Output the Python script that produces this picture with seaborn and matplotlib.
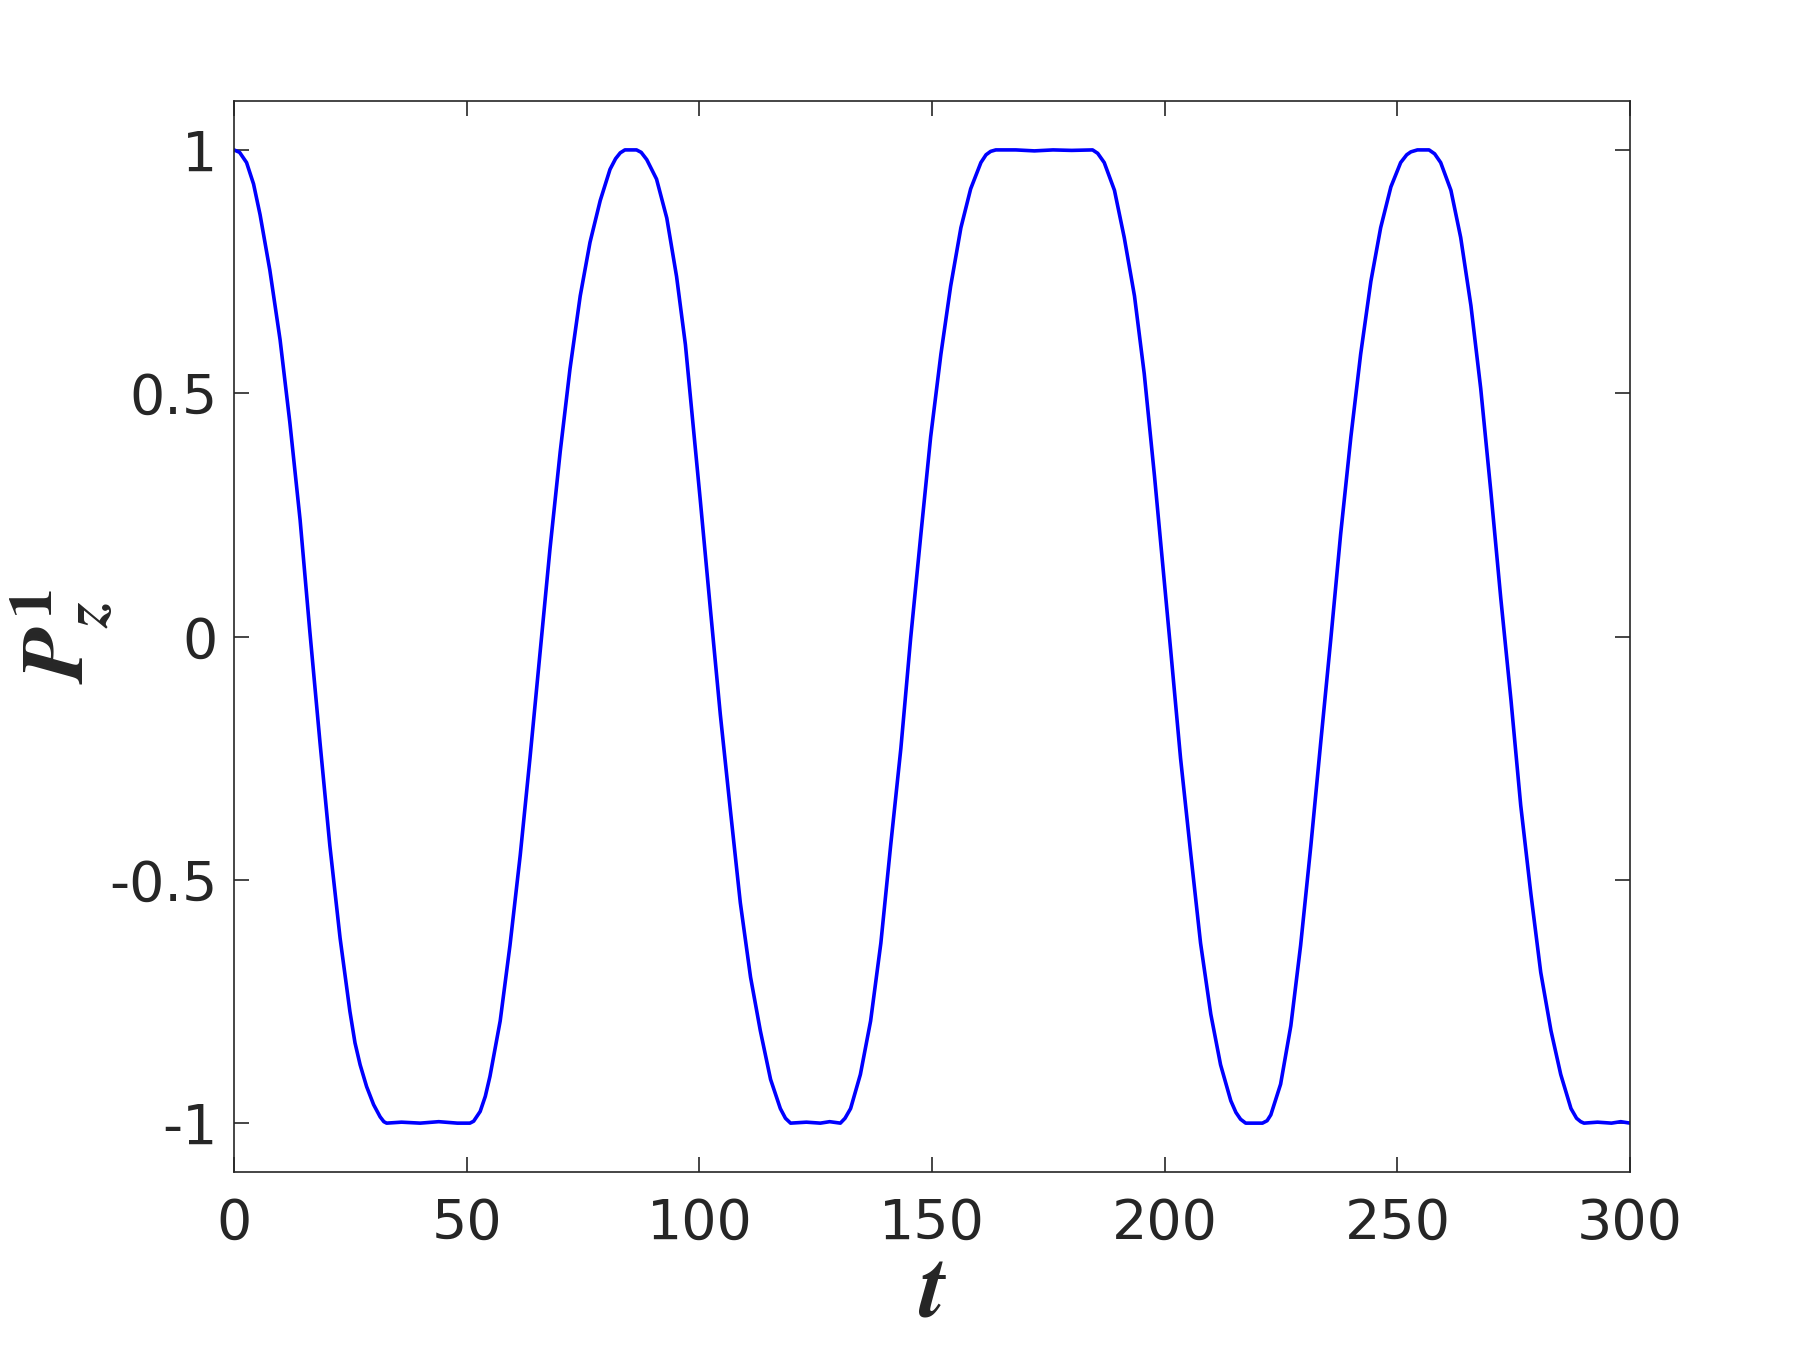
import numpy as np
import pandas as pd
import matplotlib
matplotlib.use("Agg")
import matplotlib.pyplot as plt
import seaborn as sns

# values (t, P_z^1)
t = [0, 1.2, 2.7, 4.2, 5.6, 7.7, 9.9, 12.0, 14.2, 16.3, 18.5, 20.6, 22.8, 24.9, 26.0, 27.1, 28.5, 30.0, 31.4, 32.2, 32.8,
     36, 40, 44, 48,
     50.7, 51.5, 52.9, 54.0, 55.0, 57.2, 59.3, 61.5, 63.6, 65.8, 67.9, 70.1, 72.2, 74.4, 76.5, 78.7, 80.8, 82.0, 83.0, 84.0,
     86.5, 87.5, 88.7, 90.8, 93.0, 95.1, 97.0, 98.5, 100.2, 102.4, 104.5, 106.7, 108.8, 111.0, 113.1, 115.3, 117.4, 118.5, 119.6,
     123, 126, 128,
     130.3, 131.3, 132.5, 134.6, 136.8, 139.0, 141.1, 143.3, 145.4, 147.6, 149.7, 151.9, 154.0, 156.2, 158.3, 160.5, 161.6, 162.6, 163.7,
     168, 172, 176, 180,
     184.5, 185.6, 187.0, 189.2, 191.3, 193.5, 195.6, 197.8, 199.1, 201.3, 203.4, 205.6, 207.7, 209.9, 212.0, 214.2, 215.3, 216.3, 217.4,
     219.2,
     221.0, 222.0, 222.8, 224.9, 227.1, 229.2, 231.4, 233.5, 235.7, 237.8, 240.0, 242.1, 244.3, 246.4, 248.6, 250.7, 252.0, 252.9, 254.3,
     256.8, 258.0, 259.3, 261.5, 263.6, 265.8, 267.9, 270.1, 272.2, 274.4, 276.5, 278.7, 280.8, 283.0, 285.1, 287.3, 288.5, 289.4, 290.1,
     293, 296, 298, 300]
pz = [1.0, 0.995, 0.974, 0.93, 0.867, 0.753, 0.61, 0.44, 0.24, 0.01, -0.22, -0.43, -0.62, -0.77, -0.835, -0.88, -0.925, -0.962, -0.987, -0.997, -1.0,
      -0.998, -1.0, -0.997, -1.0,
      -1.0, -0.996, -0.976, -0.945, -0.904, -0.79, -0.635, -0.45, -0.25, -0.03, 0.18, 0.38, 0.55, 0.70, 0.81, 0.896, 0.96, 0.982, 0.994, 1.0,
      1.0, 0.995, 0.98, 0.94, 0.86, 0.74, 0.60, 0.45, 0.28, 0.053, -0.16, -0.36, -0.547, -0.70, -0.81, -0.91, -0.97, -0.99, -1.0,
      -0.998, -1.0, -0.997,
      -1.0, -0.99, -0.97, -0.90, -0.79, -0.63, -0.43, -0.23, -0.004, 0.21, 0.41, 0.58, 0.72, 0.84, 0.92, 0.974, 0.99, 0.997, 1.0,
      1.0, 0.998, 1.0, 0.999,
      1.0, 0.993, 0.974, 0.917, 0.82, 0.70, 0.54, 0.33, 0.196, -0.03, -0.25, -0.447, -0.63, -0.776, -0.88, -0.954, -0.978, -0.992, -1.0,
      -1.0,
      -1.0, -0.995, -0.983, -0.92, -0.80, -0.635, -0.43, -0.22, -0.004, 0.21, 0.41, 0.58, 0.73, 0.84, 0.924, 0.974, 0.99, 0.996, 1.0,
      1.0, 0.992, 0.974, 0.917, 0.82, 0.68, 0.51, 0.296, 0.08, -0.13, -0.347, -0.53, -0.69, -0.81, -0.90, -0.97, -0.99, -0.997, -1.0,
      -0.998, -1.0, -0.997, -1.0]

x_ticks = [0, 50, 100, 150, 200, 250, 300]
y_ticks = [-1, -0.5, 0, 0.5, 1]
y_tick_labels = ["-1", "-0.5", "0", "0.5", "1"]

sns.set_theme(style="ticks")
plt.rcParams['font.family'] = ['DejaVu Sans']
plt.rcParams['mathtext.fontset'] = 'stix'

df = pd.DataFrame({"t": t, "pz": pz})

fig = plt.figure(figsize=(18, 13.5), dpi=100)
ax = fig.add_axes([0.13, 0.132, 0.7756, 0.793])
sns.lineplot(data=df, x="t", y="pz", color="#0000ff", linewidth=2.6, ax=ax)

ax.set_xlim(0, 300)
ax.set_ylim(-1.1, 1.1)
ax.set_xticks(x_ticks)
ax.set_yticks(y_ticks)
ax.set_yticklabels(y_tick_labels)
ax.tick_params(direction="in", top=True, right=True, length=11, width=1.2,
               labelsize=40, colors="#262626")
ax.tick_params(axis="x", pad=18)
ax.tick_params(axis="y", pad=12)
for sp in ax.spines.values():
    sp.set_linewidth(1.2)
    sp.set_color("#262626")

ax.set_xlabel(r"$\boldsymbol{t}$", fontsize=66, color="#262626", labelpad=-4)
ax.set_ylabel(r"$\boldsymbol{P}_{\boldsymbol{z}}^{\,\mathbf{1}}$", fontsize=64, color="#262626", labelpad=-4)

fig.savefig("out.png", dpi=100)
